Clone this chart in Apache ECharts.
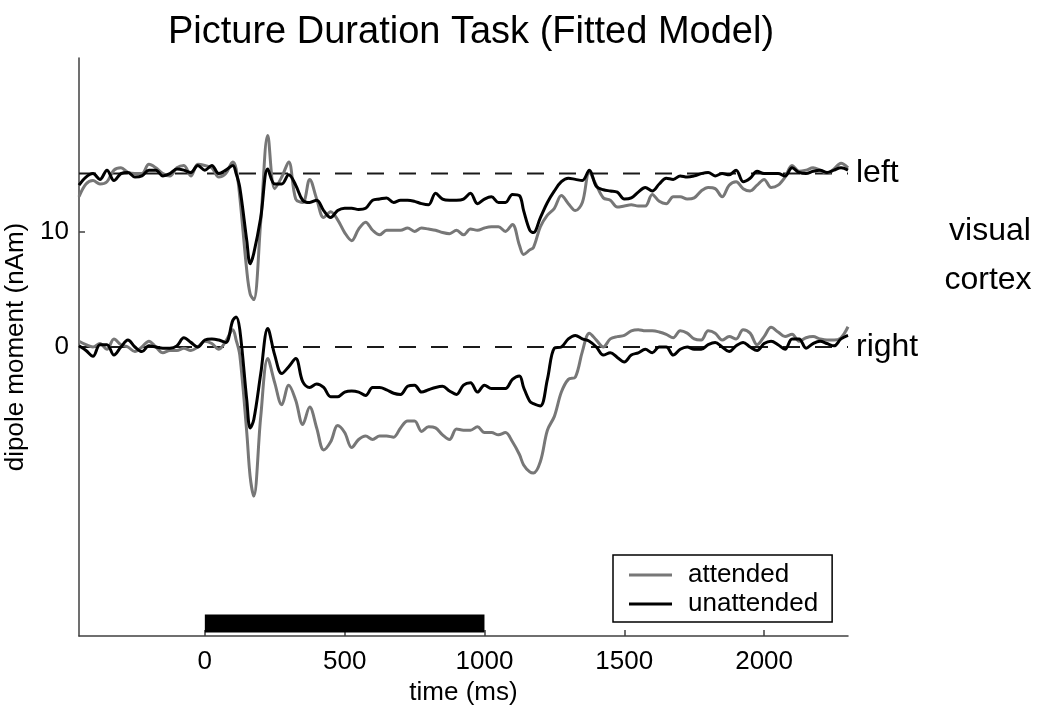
<!DOCTYPE html>
<html>
<head>
<meta charset="utf-8">
<script src="https://cdn.jsdelivr.net/npm/echarts@6/dist/echarts.min.js"></script>
<style>
html,body{margin:0;padding:0;background:#fff;}
#chart{width:1037px;height:706px;}
</style>
</head>
<body>
<div id="chart"></div>
<script>
// ---- data ----
var times = [-450,-425,-400,-375,-350,-325,-300,-275,-250,-225,-200,-175,-150,-125,-100,-75,-50,-25,0,25,50,75,100,112,125,150,162,175,200,225,250,275,300,325,350,375,400,425,450,475,500,525,550,575,600,625,650,675,700,725,750,775,800,825,850,875,900,925,950,975,1000,1025,1050,1075,1100,1125,1140,1162,1175,1200,1225,1250,1275,1300,1325,1350,1375,1400,1425,1450,1475,1500,1525,1550,1575,1600,1625,1650,1675,1700,1725,1750,1775,1800,1825,1850,1875,1900,1925,1950,1975,2000,2025,2050,2075,2100,2125,2150,2175,2200,2225,2250,2275,2300];

var attendedLeft = [13.0,14.1,14.4,14.1,14.3,15.3,15.5,15.1,15.0,15.0,15.8,15.5,15.0,14.8,15.5,15.7,14.8,15.8,15.7,15.5,14.7,15.0,16.0,15.4,13.0,6.6,4.6,4.1,10.9,18.3,13.7,14.7,16.0,12.8,12.5,14.5,12.8,11.2,11.7,11.0,9.9,9.2,10.2,10.8,10.1,9.7,10.1,10.1,10.1,10.3,10.0,10.3,10.2,10.1,9.9,9.8,10.1,9.7,10.2,10.1,10.3,10.4,10.4,10.0,10.6,8.8,8.0,8.4,8.6,10.4,11.4,12.0,13.1,12.4,11.8,12.5,15.1,14.0,12.9,12.7,12.1,12.2,12.3,12.2,12.2,13.2,12.6,12.4,13.0,13.0,12.8,12.9,13.5,13.8,13.7,13.0,14.0,14.3,13.7,13.5,14.0,14.5,13.8,14.0,14.7,15.7,15.2,15.3,15.5,15.3,15.0,15.4,15.9,15.5];

var unattendedLeft = [14.0,14.7,15.0,14.5,15.3,14.4,15.0,15.1,14.7,14.8,15.3,15.3,14.8,15.0,15.4,15.3,15.1,15.7,15.3,15.7,15.0,15.3,15.7,15.0,13.8,9.2,7.2,8.1,11.2,15.4,14.1,14.1,14.9,14.0,12.7,12.5,12.7,11.8,11.2,11.8,12.0,12.0,11.9,12.0,12.7,12.8,12.9,12.5,12.7,12.7,12.6,12.4,12.3,13.3,12.8,12.7,12.7,12.8,13.3,12.4,12.8,13.0,12.5,12.5,13.2,13.1,11.8,10.1,9.9,11.2,12.5,13.5,14.3,14.6,14.5,14.4,15.3,13.9,13.6,13.5,13.4,12.8,12.9,13.4,13.8,13.5,14.1,14.6,14.5,14.8,14.7,14.8,15.0,15.1,14.8,15.0,14.9,15.3,14.3,14.6,15.2,15.0,15.0,15.0,14.8,15.5,15.1,15.0,15.2,15.3,15.1,15.3,15.5,15.3];

var attendedRight = [0.5,0.2,0.0,0.3,-0.2,0.7,0.2,0.0,-0.4,0.0,0.5,0.0,-0.5,-0.3,-0.3,-0.1,-0.3,0.0,0.5,0.3,-0.2,0.5,1.5,0.6,-0.7,-7.4,-11.2,-12.9,-6.0,-1.0,-3.1,-5.0,-3.3,-4.6,-6.7,-5.2,-7.0,-8.9,-8.2,-6.8,-7.4,-8.7,-8.0,-7.7,-8.0,-7.7,-7.7,-7.8,-7.0,-6.4,-6.4,-7.3,-6.9,-7.0,-7.6,-8.0,-7.1,-7.2,-7.2,-6.9,-7.4,-7.4,-7.6,-7.4,-8.2,-9.3,-10.2,-10.8,-10.9,-9.9,-7.2,-6.0,-3.9,-2.8,-2.6,-0.4,1.2,0.6,0.0,0.7,0.9,1.0,1.4,1.5,1.4,1.4,1.3,1.1,0.8,1.4,1.2,0.7,0.6,1.4,1.2,0.6,0.9,0.7,1.5,1.2,0.2,0.9,1.7,1.3,0.9,1.1,0.5,0.8,0.9,0.7,0.6,0.6,0.8,1.75];

var unattendedRight = [0.1,-0.3,-0.8,0.2,0.2,-0.7,0.0,0.6,0.0,-0.4,0.1,0.0,-0.1,-0.1,0.1,0.8,0.4,0.0,0.6,0.7,0.6,0.4,2.3,2.6,1.5,-4.6,-7.0,-6.3,-2.3,1.6,-0.7,-2.3,-1.7,-1.0,-3.0,-3.5,-3.2,-3.5,-4.3,-4.3,-3.9,-3.8,-3.9,-4.2,-3.5,-3.5,-3.7,-4.0,-4.1,-3.4,-3.3,-3.9,-3.7,-3.5,-3.4,-3.8,-4.1,-3.3,-3.1,-3.9,-3.3,-3.6,-3.6,-3.6,-2.8,-2.5,-3.5,-4.7,-4.9,-5.1,-2.8,-0.1,0.0,0.7,1.0,0.7,0.5,0.0,-0.7,-0.5,-0.9,-1.3,-0.7,-0.5,-0.2,-0.5,0.0,0.0,-0.7,-0.2,0.0,-0.2,-0.2,0.2,0.4,0.0,-0.4,0.1,0.4,0.0,-0.3,0.3,0.5,0.2,-0.2,0.7,0.7,-0.1,0.3,0.5,0.3,0.1,0.7,1.0];

var baselineLeft = 15;
var baselineRight = 0;
var stimulus = [0, 1000];
var xTicks = [0, 500, 1000, 1500, 2000];
var yTicks = [0, 10];
var seriesNames = ['attended', 'unattended'];

// ---- chart ----
var FONT = '"Liberation Sans", Arial, Helvetica, sans-serif';
var xMin = -450, xMax = 2300;
function pairs(arr){ return times.map(function(t,i){ return [t, arr[i]]; }); }
function plain(v){ return String(v); }

var chart = echarts.init(document.getElementById('chart'), null, {renderer:'canvas'});
var dashStyle = {color:'#1a1a1a', width:2, type:[17,15]};
var grayCol = '#777777', blackCol = '#000000';
var LW = 3;

var option = {
  animation:false,
  backgroundColor:'#fff',
  title:{
    text:'Picture Duration Task (Fitted Model)',
    left:466, top:9, textAlign:'center',
    textStyle:{fontFamily:FONT, fontSize:38, fontWeight:'normal', color:'#000'}
  },
  grid:{left:79, right:189, top:58, bottom:70, containLabel:false, outerBoundsMode:'none'},
  legend:{
    data:seriesNames,
    orient:'vertical', left:613, top:555,
    padding:[7,14,5,16],
    icon:'rect',
    itemWidth:43, itemHeight:3, itemGap:3,
    borderColor:'#000', borderWidth:1.5, backgroundColor:'#fff',
    textStyle:{fontFamily:FONT, fontSize:26, color:'#000', padding:[0,0,0,11], lineHeight:26}
  },
  xAxis:{
    type:'value', min:xMin, max:xMax,
    name:'time (ms)', nameLocation:'middle', nameGap:40,
    nameTextStyle:{fontFamily:FONT, fontSize:26, color:'#000'},
    axisLine:{show:true, onZero:false, lineStyle:{color:'#404040', width:1.5}},
    axisTick:{show:true, inside:true, length:6, customValues:xTicks, lineStyle:{color:'#404040', width:1.5}},
    axisLabel:{show:true, customValues:xTicks, formatter:plain, margin:13, fontFamily:FONT, fontSize:26, color:'#000'},
    splitLine:{show:false}
  },
  yAxis:{
    type:'value', min:-25, max:25,
    name:'dipole moment (nAm)', nameLocation:'middle', nameGap:36, nameRotate:90,
    nameTextStyle:{fontFamily:FONT, fontSize:26, color:'#000'},
    axisLine:{show:true, onZero:false, lineStyle:{color:'#404040', width:1.5}},
    axisTick:{show:true, inside:true, length:6, customValues:yTicks, lineStyle:{color:'#404040', width:1.5}},
    axisLabel:{show:true, customValues:yTicks, formatter:plain, margin:10, fontFamily:FONT, fontSize:26, color:'#000'},
    splitLine:{show:false}
  },
  graphic:[
    {type:'text', x:990, y:231,
      style:{text:'visual', fill:'#000', font:'32px ' + FONT, align:'center', verticalAlign:'middle'}},
    {type:'text', x:988, y:280,
      style:{text:'cortex', fill:'#000', font:'32px ' + FONT, align:'center', verticalAlign:'middle'}}
  ],
  series:[
    {
      type:'line', name:'baseL', data:[[xMin, baselineLeft],[xMax, baselineLeft]],
      symbol:'none', silent:true, lineStyle:dashStyle, z:1,
      endLabel:{show:true, formatter:'left', distance:8, fontFamily:FONT, fontSize:32, color:'#000'},
      markArea:{silent:true, itemStyle:{color:'#000'},
        data:[[{coord:[stimulus[0], -23.15]},{coord:[stimulus[1], -24.7]}]]}
    },
    {
      type:'line', name:'baseR', data:[[xMin, baselineRight],[xMax, baselineRight]],
      symbol:'none', silent:true, lineStyle:dashStyle, z:1,
      endLabel:{show:true, formatter:'right', distance:8, fontFamily:FONT, fontSize:32, color:'#000'}
    },
    {type:'line', name:seriesNames[0], data:pairs(attendedLeft), symbol:'none', smooth:0.35,
      lineStyle:{color:grayCol, width:LW}, itemStyle:{color:grayCol}, z:2},
    {type:'line', name:seriesNames[0], data:pairs(attendedRight), symbol:'none', smooth:0.35,
      lineStyle:{color:grayCol, width:LW}, itemStyle:{color:grayCol}, z:2},
    {type:'line', name:seriesNames[1], data:pairs(unattendedLeft), symbol:'none', smooth:0.35,
      lineStyle:{color:blackCol, width:LW}, itemStyle:{color:blackCol}, z:3},
    {type:'line', name:seriesNames[1], data:pairs(unattendedRight), symbol:'none', smooth:0.35,
      lineStyle:{color:blackCol, width:LW}, itemStyle:{color:blackCol}, z:3}
  ]
};
chart.setOption(option);
</script>
</body>
</html>
